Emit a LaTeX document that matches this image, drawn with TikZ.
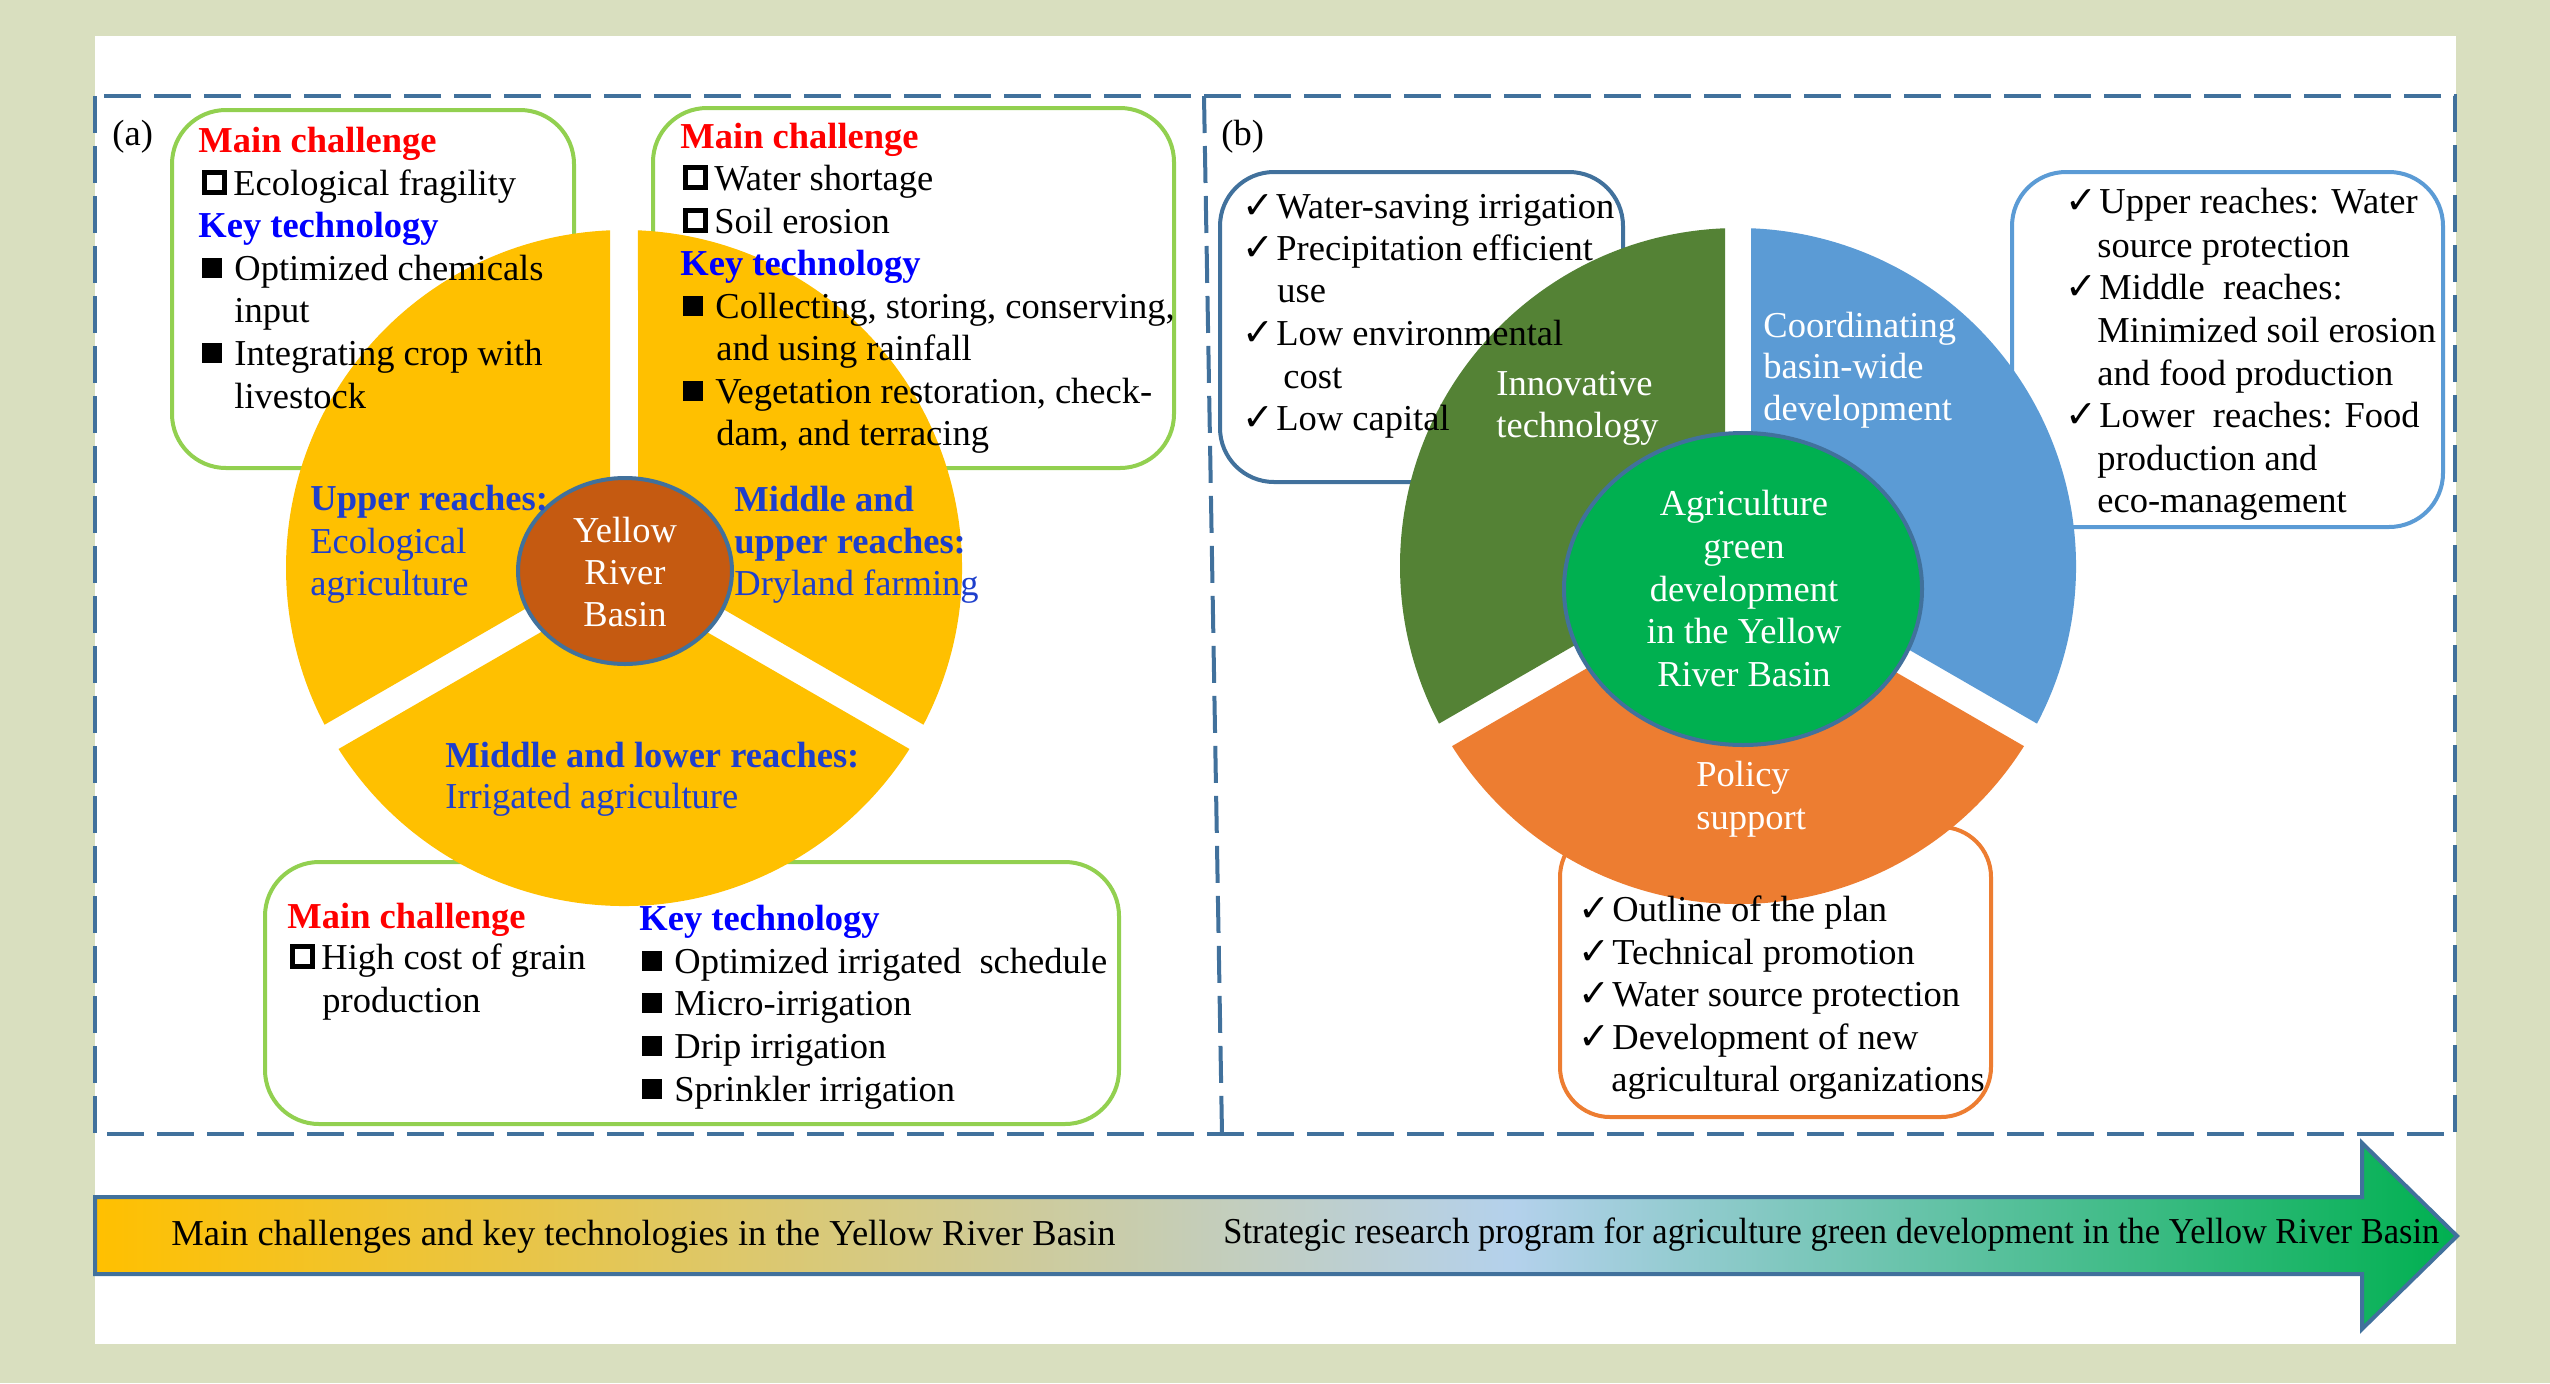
\documentclass[tikz,border=0pt]{standalone}
\usepackage{fontspec}
\setmainfont{Liberation Serif}
\newfontfamily\dejavu{DejaVu Sans}
\usepackage{graphicx}
\definecolor{bgc}{HTML}{D9DFBF}
\definecolor{frameblue}{HTML}{41719C}
\definecolor{ltblue}{HTML}{5B9BD5}
\definecolor{pieyellow}{HTML}{FFC000}
\definecolor{rustc}{HTML}{C55A11}
\definecolor{leafgreen}{HTML}{548235}
\definecolor{orangec}{HTML}{ED7D31}
\definecolor{brightgreen}{HTML}{00B050}
\definecolor{boxgreen}{HTML}{92D050}
\definecolor{secblue}{HTML}{1E3FCC}
\definecolor{keyblue}{HTML}{0000FF}
\definecolor{redc}{HTML}{FF0000}
\definecolor{gA}{HTML}{FFC000}
\definecolor{gB}{HTML}{B4D1EC}
\definecolor{gC}{HTML}{00B050}
\pgfdeclarehorizontalshading{arrowgrad}{100bp}{color(0bp)=(gA); color(25bp)=(gA); color(55bp)=(gB); color(75bp)=(gC); color(100bp)=(gC)}
\newcommand\fs{\fontsize{18.25}{21.3}\selectfont}
\newcommand\hsq{\raisebox{2.5pt}{\setlength\fboxsep{0pt}\setlength\fboxrule{2.5pt}\fbox{\rule{0pt}{7.5pt}\rule{7.5pt}{0pt}}}\hspace{3pt}}
\newcommand\fsq{\raisebox{1pt}{\rule{10pt}{10pt}}\hspace{6pt}}
\newcommand\chk{\makebox[17pt][l]{\raisebox{0pt}{\dejavu\fontsize{19}{19}\selectfont ✓}}}
\newcommand\sect[5]{%
  \pgfmathsetmacro\dd{asin(#5/#4)}%
  \pgfmathsetmacro\ri{#5/sin(60)}%
  \fill[#1] ({-(#2+#3)/2}:\ri) -- ({-(#2+\dd)}:#4) arc[start angle={-(#2+\dd)}, end angle={-(#3-\dd)}, radius=#4] -- cycle;}
\tikzset{
  txt/.style={anchor=base west, inner sep=0pt, font=\fs},
  txtc/.style={anchor=base, inner sep=0pt, font=\fs},
  redhead/.style={txt, text=redc, font=\fs\bfseries},
  keyhead/.style={txt, text=keyblue, font=\fs\bfseries},
  secb/.style={txt, text=secblue, font=\fs\bfseries},
  secr/.style={txt, text=secblue},
  wtxt/.style={txt, text=white},
  wtxtc/.style={txtc, text=white},
  gbox/.style={draw=boxgreen, line width=2pt, rounded corners=27pt},
  dashframe/.style={draw=frameblue, line width=2pt, dash pattern=on 18.5pt off 6.5pt},
}
\begin{document}
\begin{tikzpicture}[x=0.5pt,y=-0.5pt]
\useasboundingbox (0,0) rectangle (2550,1383);
\fill[bgc] (0,0) rectangle (2550,1383);
\fill[white] (95,36) rectangle (2456,1344);
% frame
\draw[dashframe] (95,96) rectangle (2455,1134);
\draw[dashframe] (1204,96) -- (1222,1134);
% boxes (a)
\draw[gbox] (172,110) rectangle (574,468);
\draw[gbox] (653,108) rectangle (1174,468);
\draw[gbox] (265,862) rectangle (1119,1124);
% boxes (b)
\draw[draw=frameblue, line width=2pt, rounded corners=27pt] (1220,172) rectangle (1623,482);
\draw[draw=ltblue, line width=2pt, rounded corners=27pt] (2012,172) rectangle (2443,527);
\draw[draw=orangec, line width=2pt, rounded corners=25pt] (1560,827) rectangle (1991,1117);
% pie (a)
\begin{scope}[shift={(624,568)}]
\sect{pieyellow}{90}{210}{338}{14}
\sect{pieyellow}{-30}{90}{338}{14}
\sect{pieyellow}{210}{330}{338}{14}
\end{scope}
\draw[fill=rustc, draw=frameblue, line width=2pt] (625,571) ellipse [x radius=107, y radius=93];
% pie (b)
\begin{scope}[shift={(1738,566)}]
\sect{leafgreen}{90}{210}{338}{13}
\sect{ltblue}{-30}{90}{338}{13}
\sect{orangec}{210}{330}{338}{13}
\end{scope}
\draw[fill=brightgreen, draw=frameblue, line width=2pt] (1743,589) ellipse [x radius=179, y radius=156];
% arrow
\shadedraw[shading=arrowgrad, draw=frameblue, line width=2pt] (95,1197) -- (2362,1197) -- (2362,1143) -- (2457,1236) -- (2362,1329) -- (2362,1274) -- (95,1274) -- cycle;
\node[txt] (arrL) at (171,1245) {Main challenges and key technologies in the Yellow River Basin};
\node[txt] (arrR) at (1223,1243) {\scalebox{0.945}[1]{Strategic research program for agriculture green development in the Yellow River Basin}};
% labels
\node[txt] (la) at (112,145) {(a)};
\node[txt] (lb) at (1221,145) {(b)};
% box1 text
\node[redhead] (b1a) at (198,152) {Main challenge};
\node[txt] (b1b) at (202,195) {\hsq Ecological fragility};
\node[keyhead] (b1c) at (198,237) {Key technology};
\node[txt] (b1d) at (202,280) {\fsq Optimized chemicals};
\node[txt] (b1e) at (234,322) {input};
\node[txt] (b1f) at (202,365) {\fsq Integrating crop with};
\node[txt] (b1g) at (234,408) {livestock};
% box2 text
\node[redhead] (b2a) at (680,148) {Main challenge};
\node[txt] (b2b) at (683,190) {\hsq Water shortage};
\node[txt] (b2c) at (683,233) {\hsq Soil erosion};
\node[keyhead] (b2d) at (680,275) {Key technology};
\node[txt] (b2e) at (683,318) {\fsq Collecting, storing, conserving,};
\node[txt] (b2f) at (716,360) {and using rainfall};
\node[txt] (b2g) at (683,403) {\fsq Vegetation restoration, check-};
\node[txt] (b2h) at (716,445) {dam, and terracing};
% sector labels (a)
\node[secb] (s1a) at (310,510) {Upper reaches:};
\node[secr] (s1b) at (310,553) {Ecological};
\node[secr] (s1c) at (310,595) {agriculture};
\node[secb] (s2a) at (734,511) {Middle and};
\node[secb] (s2b) at (734,553) {upper reaches:};
\node[secr] (s2c) at (734,595) {Dryland farming};
\node[secb] (s3a) at (445,767) {Middle and lower reaches:};
\node[secr] (s3b) at (445,808) {Irrigated agriculture};
\node[wtxtc] (ya) at (625,542) {Yellow};
\node[wtxtc] (yb) at (625,584) {River};
\node[wtxtc] (yc) at (625,626) {Basin};
% box3 text
\node[redhead] (b3a) at (287,928) {Main challenge};
\node[txt] (b3b) at (290,969) {\hsq High cost of grain};
\node[txt] (b3c) at (322,1012) {production};
\node[keyhead] (b3d) at (639,930) {Key technology};
\node[txt] (b3e) at (642,973) {\fsq Optimized irrigated\ \ schedule};
\node[txt] (b3f) at (642,1015) {\fsq Micro-irrigation};
\node[txt] (b3g) at (642,1058) {\fsq Drip irrigation};
\node[txt] (b3h) at (642,1101) {\fsq Sprinkler irrigation};
% (b) left box
\node[txt] (bl1) at (1242,218) {\chk Water-saving irrigation};
\node[txt] (bl2) at (1242,260) {\chk Precipitation efficient};
\node[txt] (bl3) at (1277,302) {use};
\node[txt] (bl4) at (1242,345) {\chk Low environmental};
\node[txt] (bl5) at (1283,388) {cost};
\node[txt] (bl6) at (1242,430) {\chk Low capital};
% (b) right box
\node[txt] (br1) at (2065,213) {\chk Upper reaches: Water};
\node[txt] (br2) at (2097,257) {source protection};
\node[txt] (br3) at (2065,299) {\chk Middle\ \ reaches:};
\node[txt] (br4) at (2097,342) {Minimized soil erosion};
\node[txt] (br5) at (2097,385) {and food production};
\node[txt] (br6) at (2065,427) {\chk Lower\ \ reaches: Food};
\node[txt] (br7) at (2097,470) {production and};
\node[txt] (br8) at (2097,512) {eco-management};
% (b) bottom box
\node[txt] (bo1) at (1578,921) {\chk Outline of the plan};
\node[txt] (bo2) at (1578,964) {\chk Technical promotion};
\node[txt] (bo3) at (1578,1006) {\chk Water source protection};
\node[txt] (bo4) at (1578,1049) {\chk Development of new};
\node[txt] (bo5) at (1611,1091) {agricultural organizations};
% (b) sector texts
\node[wtxt] (ia) at (1496,395) {Innovative};
\node[wtxt] (ib) at (1496,437) {technology};
\node[wtxt] (ca) at (1763,337) {Coordinating};
\node[wtxt] (cb) at (1763,378) {basin-wide};
\node[wtxt] (cc) at (1763,420) {development};
\node[wtxtc] (ga) at (1744,515) {Agriculture};
\node[wtxtc] (gb) at (1744,558) {green};
\node[wtxtc] (gc) at (1744,601) {development};
\node[wtxtc] (gd) at (1744,643) {in the Yellow};
\node[wtxtc] (ge) at (1744,686) {River Basin};
\node[wtxt] (pa) at (1696,786) {Policy};
\node[wtxt] (pb) at (1696,829) {support};
\end{tikzpicture}
\end{document}
